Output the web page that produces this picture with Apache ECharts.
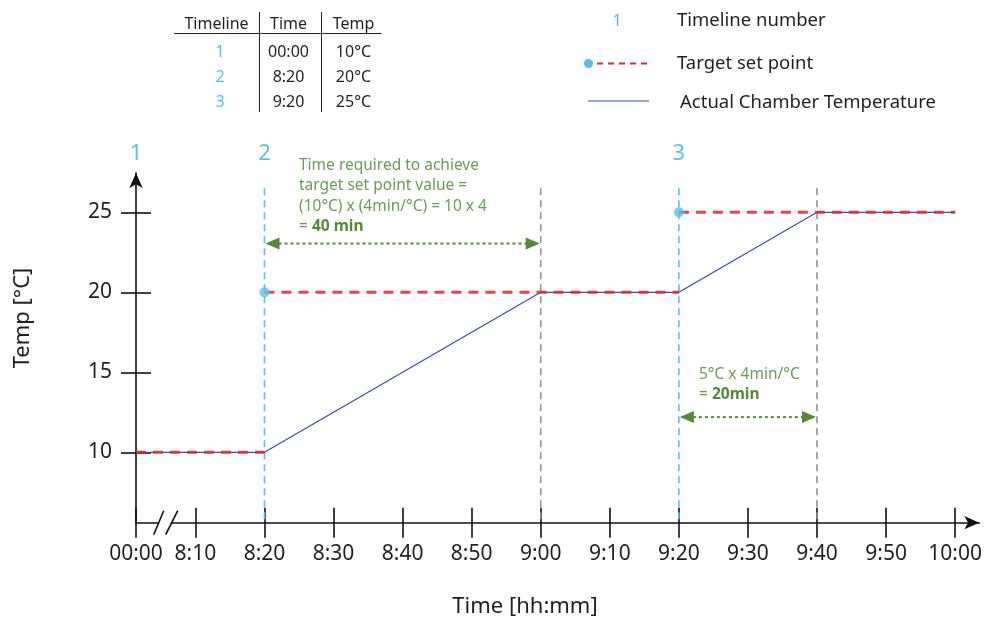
<!DOCTYPE html>
<html>
<head>
<meta charset="utf-8">
<script src="https://cdn.jsdelivr.net/npm/echarts@6/dist/echarts.min.js"></script>
<style>
  html, body {margin: 0; padding: 0; background: #fff}
  #chart {width: 985px; height: 621px}
</style>
</head>
<body>
<div id="chart"></div>
<script>
// axis ticks
const tickLabels = ['00:00', '8:10', '8:20', '8:30', '8:40', '8:50', '9:00', '9:10', '9:20', '9:30', '9:40', '9:50', '10:00']
const yTicks = [10, 15, 20, 25]

// timeline table / set points
const timelineNums = [1, 2, 3]
const setTimes = ['00:00', '8:20', '9:20']
const setTemps = [10, 20, 25]
const endTime = '10:00'

// actual chamber temperature
const actualTimes = ['00:00', '8:20', '9:00', '9:20', '9:40', '10:00']
const actualTemps = [10, 10, 20, 20, 25, 25]

// moments the set point is reached
const reachTimes = ['9:00', '9:40']

// duration arrows
const arrowFrom = ['8:20', '9:20']
const arrowTo = ['9:00', '9:40']
const arrowTemp = [23.05, 12.2]

const BLUE = '#5bc0eb'
const RED = '#e8232b'
const LINE = '#3352a6'
const GRAY = '#8d949b'
const GREEN = '#548a35'
const TEXT = '#231f20'
const FONT = '"Noto Sans", Lato, sans-serif'

// 00:00 sits right at the axis start, the gap to 8:10 is squeezed (axis break)
const BREAK_POS = 1.4
const X_MAX = 123.5
const Y_MIN = 5.6
const Y_MAX = 27.46
const GUIDE_TOP = 26.5

function tv(label) {
    if (label === '00:00') return BREAK_POS
    const [h, m] = label.split(':').map(Number)
    return (h - 8) * 60 + m
}

const tickValues = tickLabels.map(tv)
function labelOf(v) {
    const i = tickValues.findIndex(t => Math.abs(t - v) < 0.01)
    return i >= 0 ? tickLabels[i] : ''
}

// target set point: flat segment from each set time to the next one
const targetSeries = setTimes.map((t, i) => {
    const to = i < setTimes.length - 1 ? setTimes[i + 1] : endTime
    return {
        type: 'line',
        name: 'Target set point',
        data: [[tv(t), setTemps[i]], [tv(to), setTemps[i]]],
        showSymbol: false,
        z: 4,
        lineStyle: {color: RED, width: 3, type: [10, 7], opacity: 0.85},
        silent: true
    }
})

const guides = setTimes.slice(1).map(t => [tv(t), 0]).concat(reachTimes.map(t => [tv(t), 1]))

const axisStyle = {color: '#111', width: 1.6}

const xAxisBase = {
    type: 'value', min: BREAK_POS, max: X_MAX, position: 'bottom',
    splitLine: {show: false}
}
const yAxisBase = {
    type: 'value', min: Y_MIN, max: Y_MAX, position: 'left',
    splitLine: {show: false}
}

const chart = echarts.init(document.getElementById('chart'), null, {renderer: 'canvas'})

const option = {
    animation: false,
    backgroundColor: '#fff',
    grid: {left: 136, right: 3, top: 173, bottom: 98.3},
    xAxis: [
        Object.assign({}, xAxisBase, {
            axisLine: {onZero: false, lineStyle: axisStyle, symbol: ['none', 'arrow'], symbolSize: [10, 15]},
            axisTick: {customValues: tickValues, length: 15, lineStyle: axisStyle},
            axisLabel: {
                customValues: tickValues, formatter: labelOf, margin: 21,
                color: TEXT, fontSize: 21, fontFamily: FONT
            }
        }),
        Object.assign({}, xAxisBase, {
            axisLine: {show: false, onZero: false},
            axisTick: {customValues: tickValues, inside: true, length: 15, lineStyle: axisStyle},
            axisLabel: {show: false}
        })
    ],
    yAxis: [
        Object.assign({}, yAxisBase, {
            axisLine: {onZero: false, lineStyle: axisStyle, symbol: ['none', 'arrow'], symbolSize: [10, 15]},
            axisTick: {customValues: yTicks, length: 15, lineStyle: axisStyle},
            axisLabel: {
                customValues: yTicks, margin: 24,
                color: TEXT, fontSize: 21, fontFamily: FONT
            }
        }),
        Object.assign({}, yAxisBase, {
            axisLine: {show: false, onZero: false},
            axisTick: {customValues: yTicks, inside: true, length: 15, lineStyle: axisStyle},
            axisLabel: {show: false}
        })
    ],
    series: [
        {
            // vertical guides: blue at set time, gray when reached
            type: 'custom', silent: true, z: 1,
            data: guides,
            renderItem: (params, api) => {
                const x = api.value(0)
                const p1 = api.coord([x, GUIDE_TOP])
                const p2 = api.coord([x, Y_MIN])
                return {
                    type: 'line',
                    shape: {x1: p1[0], y1: p1[1], x2: p2[0], y2: p2[1] - 1},
                    style: {stroke: api.value(1) === 0 ? BLUE : GRAY, lineWidth: 1.6, lineDash: [7, 5]}
                }
            }
        },
        {
            type: 'line',
            name: 'Actual Chamber Temperature',
            data: actualTimes.map((t, i) => [tv(t), actualTemps[i]]),
            showSymbol: false,
            z: 3,
            lineStyle: {color: LINE, width: 1.2},
            silent: true
        },
        ...targetSeries,
        {
            type: 'scatter',
            name: 'Set point',
            data: setTimes.slice(1).map((t, i) => [tv(t), setTemps[i + 1]]),
            symbolSize: 10,
            itemStyle: {color: BLUE},
            z: 5,
            silent: true
        },
        {
            // duration arrows
            type: 'custom', silent: true, z: 6,
            data: arrowFrom.map((t, i) => [tv(t), tv(arrowTo[i]), arrowTemp[i]]),
            encode: {x: [0, 1], y: 2},
            renderItem: (params, api) => {
                const a = api.coord([api.value(0), api.value(2)])
                const b = api.coord([api.value(1), api.value(2)])
                const len = 14, hw = 6
                return {
                    type: 'group',
                    children: [
                        {type: 'line', shape: {x1: a[0] + len, y1: a[1], x2: b[0] - len, y2: b[1]},
                            style: {stroke: GREEN, lineWidth: 2, lineDash: [3, 3]}},
                        {type: 'polygon', shape: {points: [[a[0] + 1, a[1]], [a[0] + len + 1, a[1] - hw], [a[0] + len + 1, a[1] + hw]]},
                            style: {fill: GREEN}},
                        {type: 'polygon', shape: {points: [[b[0] - 1, b[1]], [b[0] - len - 1, b[1] - hw], [b[0] - len - 1, b[1] + hw]]},
                            style: {fill: GREEN}}
                    ]
                }
            }
        },
        {
            // axis break marks between 00:00 and 8:10
            type: 'custom', silent: true, z: 6,
            data: [[(tv('00:00') + tv('8:10')) / 2, Y_MIN]],
            renderItem: (params, api) => {
                const c = api.coord([api.value(0), api.value(1)])
                const s = {stroke: '#111', lineWidth: 1.6}
                return {
                    type: 'group',
                    children: [
                        {type: 'rect', shape: {x: c[0] - 7, y: c[1] - 3, width: 13, height: 6}, style: {fill: '#fff'}},
                        {type: 'line', shape: {x1: c[0] - 12, y1: c[1] + 12, x2: c[0] - 2, y2: c[1] - 12}, style: s},
                        {type: 'line', shape: {x1: c[0], y1: c[1] + 12, x2: c[0] + 12, y2: c[1] - 12}, style: s}
                    ]
                }
            }
        },
        {
            // timeline numbers above the plot
            type: 'custom', silent: true, z: 6, clip: false,
            data: setTimes.map((t, i) => [tv(t), timelineNums[i]]),
            renderItem: (params, api) => {
                const p = api.coord([api.value(0), Y_MAX])
                return {
                    type: 'text',
                    style: {
                        text: String(api.value(1)), x: p[0], y: p[1] - 19,
                        fill: BLUE, fontSize: 22, fontFamily: FONT,
                        align: 'center', verticalAlign: 'middle'
                    }
                }
            }
        }
    ],
    graphic: []
}

// axis titles
option.graphic.push(
    {type: 'text', x: 525, y: 607, style: {text: 'Time [hh:mm]', fill: TEXT, fontSize: 22, fontFamily: FONT, align: 'center', verticalAlign: 'middle'}},
    {type: 'text', x: 23, y: 318, rotation: Math.PI / 2,
        style: {text: 'Temp [°C]', fill: TEXT, fontSize: 22, fontFamily: FONT, align: 'center', verticalAlign: 'middle'}}
)

// table at the top
const colX = [220, 288.5, 353.5]
const rowY = [52.5, 77.5, 102]
const tableTxt = (text, x, y, color) => ({
    type: 'text', x: x, y: y,
    style: {text: text, fill: color || TEXT, fontSize: 16, fontFamily: FONT, align: 'center', verticalAlign: 'middle'}
})
option.graphic.push(tableTxt('Timeline', 216.5, 24), tableTxt('Time', 288.5, 24), tableTxt('Temp', 353.5, 24))
timelineNums.forEach((n, i) => {
    option.graphic.push(
        tableTxt(String(n), colX[0], rowY[i], BLUE),
        tableTxt(setTimes[i], colX[1], rowY[i]),
        tableTxt(setTemps[i] + '°C', colX[2], rowY[i])
    )
})
option.graphic.push(
    {type: 'line', shape: {x1: 174, y1: 33.5, x2: 381.5, y2: 33.5}, style: {stroke: '#222', lineWidth: 1}},
    {type: 'line', shape: {x1: 259.5, y1: 12, x2: 259.5, y2: 112}, style: {stroke: '#222', lineWidth: 1}},
    {type: 'line', shape: {x1: 321.5, y1: 12, x2: 321.5, y2: 112}, style: {stroke: '#222', lineWidth: 1}}
)

// legend on the right
const legendTxt = (text, x, y) => ({
    type: 'text', x: x, y: y,
    style: {text: text, fill: TEXT, fontSize: 18.5, fontFamily: FONT, align: 'left', verticalAlign: 'middle'}
})
option.graphic.push(
    {type: 'text', x: 617, y: 21, style: {text: '1', fill: BLUE, fontSize: 17, fontFamily: FONT, align: 'center', verticalAlign: 'middle'}},
    legendTxt('Timeline number', 677, 20.5),
    {type: 'circle', shape: {cx: 588.5, cy: 63.5, r: 4.5}, style: {fill: BLUE}},
    {type: 'line', shape: {x1: 597, y1: 63.5, x2: 650, y2: 63.5}, style: {stroke: RED, lineWidth: 2.2, lineDash: [6, 5]}},
    legendTxt('Target set point', 677, 63.5),
    {type: 'line', shape: {x1: 588, y1: 101, x2: 649, y2: 101}, style: {stroke: LINE, lineWidth: 1.2}},
    legendTxt('Actual Chamber Temperature', 680, 102.5)
)

// annotations for the ramps
const noteStyle = {
    fill: '#6a9e52', fontSize: 15.5, fontFamily: FONT, lineHeight: 20.5,
    rich: {b: {fill: GREEN, fontWeight: 'bold', fontSize: 15.5, fontFamily: FONT, lineHeight: 20.5}}
}
option.graphic.push(
    {type: 'text', x: 299, y: 155, style: Object.assign({
        text: 'Time required to achieve\ntarget set point value =\n(10°C) x (4min/°C) = 10 x 4\n= {b|40 min}'
    }, noteStyle)},
    {type: 'text', x: 699, y: 365, style: Object.assign({
        text: '5°C x 4min/°C\n= {b|20min}'
    }, noteStyle, {lineHeight: 19.5})}
)

chart.setOption(option)
</script>
</body>
</html>
